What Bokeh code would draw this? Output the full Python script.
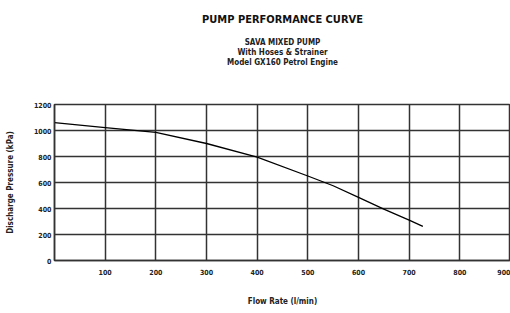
from bokeh.plotting import figure
from bokeh.models import Title, FixedTicker
from bokeh.embed import file_html
from bokeh.resources import INLINE

flow = [0, 100, 200, 300, 400, 500, 550, 600, 650, 700, 727]
pressure = [1060, 1022, 985, 900, 795, 650, 575, 485, 395, 310, 262]

x_ticks = [0, 100, 200, 300, 400, 500, 600, 700, 800, 900]
y_ticks = [0, 200, 400, 600, 800, 1000, 1200]

title = "PUMP PERFORMANCE CURVE"
subtitles = ["SAVA MIXED PUMP", "With Hoses & Strainer", "Model GX160 Petrol Engine"]
x_label = "Flow Rate (l/min)"
y_label = "Discharge Pressure (kPa)"

FONT = "'Liberation Sans Narrow', 'DejaVu Sans Condensed', sans-serif"

p = figure(width=510, height=313, x_range=(0, 900), y_range=(0, 1200),
           output_backend="svg", toolbar_location=None,
           min_border_left=54, min_border_right=0, min_border_top=103, min_border_bottom=53)

p.line(flow, pressure, line_color="black", line_width=1.3)

p.xaxis.ticker = FixedTicker(ticks=x_ticks)
p.yaxis.ticker = FixedTicker(ticks=y_ticks)
p.xaxis.major_label_overrides = {0: ""}
for ax in (p.xaxis[0], p.yaxis[0]):
    ax.major_label_text_font = FONT
    ax.major_label_text_font_style = "bold"
    ax.major_label_text_font_size = "7px"
    ax.major_label_text_color = "#222"
    ax.axis_label_text_font = FONT
    ax.axis_label_text_font_style = "bold"
    ax.axis_label_text_font_size = "8px"
    ax.axis_label_text_color = "#222"
    ax.major_tick_in = 0
    ax.major_tick_out = 0
    ax.minor_tick_in = 0
    ax.minor_tick_out = 0
    ax.axis_line_color = "#333"
    ax.axis_line_width = 1.5

p.xaxis.axis_label = x_label
p.yaxis.axis_label = y_label
p.xaxis.major_label_standoff = 8
p.yaxis.major_label_standoff = 3
p.xaxis.axis_label_standoff = 19
p.yaxis.axis_label_standoff = 16

p.grid.grid_line_color = "#333"
p.grid.grid_line_width = 1.5
p.grid.grid_line_alpha = 1.0
p.outline_line_color = "#333"
p.outline_line_width = 1.5

# spacer between frame and subtitle block
p.add_layout(Title(text=" ", text_font_size="1px", standoff=35), "above")
for s in reversed(subtitles):
    p.add_layout(Title(text=s, align="center", text_font=FONT, text_font_style="bold",
                       text_font_size="8px", text_color="#222", standoff=-1), "above")
p.add_layout(Title(text=title, align="center", text_font=FONT, text_font_style="bold",
                   text_font_size="11px", text_color="#111", standoff=21), "above")

open("out.html", "w").write(file_html(p, INLINE))
